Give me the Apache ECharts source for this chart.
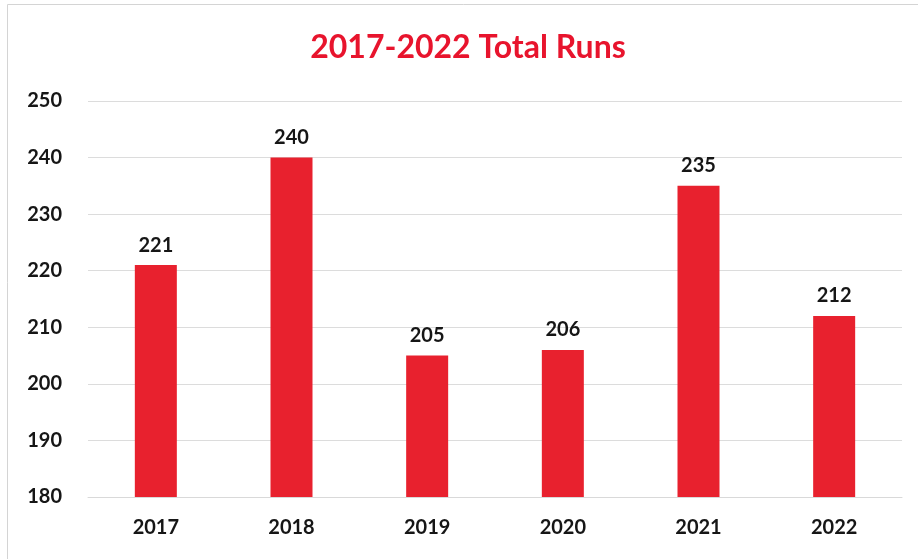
<!DOCTYPE html>
<html>
<head>
<meta charset="utf-8">
<script src="https://cdn.jsdelivr.net/npm/echarts@6/dist/echarts.min.js"></script>
<style>
html,body{margin:0;padding:0;background:#fff;}
#chart{width:918px;height:559px;}
</style>
</head>
<body>
<div id="chart"></div>
<script>
const categories = ['2017', '2018', '2019', '2020', '2021', '2022'];
const totalRuns = [221, 240, 205, 206, 235, 212];
const yTicks = [180, 190, 200, 210, 220, 230, 240, 250];

const labelFont = { color: '#161616', fontSize: 20, fontFamily: 'Lato', fontWeight: 'bold' };

const chart = echarts.init(document.getElementById('chart'));
chart.setOption({
  backgroundColor: '#ffffff',
  animation: false,
  title: {
    text: '2017-2022 Total Runs',
    left: 463,
    textAlign: 'center',
    top: 27,
    textStyle: { color: '#e8142d', fontSize: 32, fontWeight: 'bold', fontFamily: 'Lato' }
  },
  graphic: [{
    type: 'rect',
    shape: { x: 7.5, y: 4.5, width: 912, height: 560 },
    style: { fill: 'none', stroke: '#d4d4d4', lineWidth: 1 }
  }],
  grid: { left: 88, right: 16, top: 101, bottom: 62 },
  xAxis: {
    type: 'category',
    data: categories,
    axisLine: { show: true, lineStyle: { color: '#d9d9d9' } },
    axisTick: { show: false },
    axisLabel: Object.assign({ margin: 21 }, labelFont)
  },
  yAxis: {
    type: 'value',
    min: yTicks[0],
    max: yTicks[yTicks.length - 1],
    interval: 10,
    axisLine: { show: false },
    axisTick: { show: false },
    splitLine: { lineStyle: { color: '#dcdcdc', width: 1 } },
    axisLabel: Object.assign({ margin: 26 }, labelFont)
  },
  series: [{
    type: 'bar',
    data: totalRuns,
    barWidth: 42,
    itemStyle: { color: '#e8212e' },
    label: Object.assign({ show: true, position: 'top', distance: 10 }, labelFont)
  }]
});
</script>
</body>
</html>
